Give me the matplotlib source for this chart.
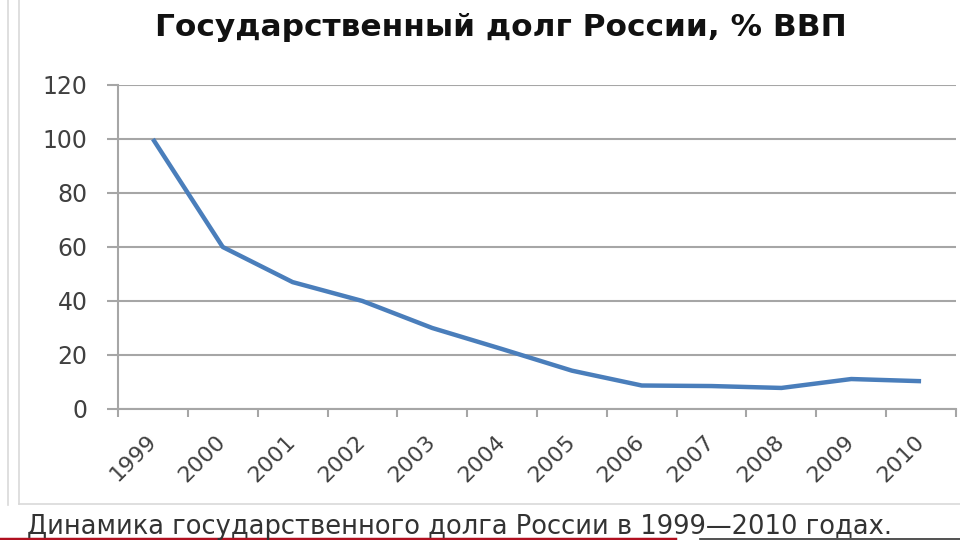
import matplotlib
matplotlib.use("Agg")
import matplotlib.pyplot as plt
from matplotlib.lines import Line2D
from matplotlib.ticker import FixedLocator, NullFormatter

years = ["1999", "2000", "2001", "2002", "2003", "2004",
         "2005", "2006", "2007", "2008", "2009", "2010"]
debt = [100, 60, 47, 40, 30, 22.2, 14.2, 8.7, 8.5, 7.8, 11.1, 10.3]
yticks = [0, 20, 40, 60, 80, 100, 120]
title = "Государственный долг России, % ВВП"
caption = "Динамика государственного долга России в 1999—2010 годах."

plt.rcParams['font.family'] = ['DejaVu Sans']

fig = plt.figure(figsize=(9.6, 5.4), dpi=100)
ax = fig.add_axes([118/960, 1-409/540, 838/960, 324/540])

x = list(range(len(years)))
ax.plot(x, debt, color="#4a7ebb", lw=3.2, solid_joinstyle="round", solid_capstyle="butt", zorder=3)

ax.set_xlim(-0.5, len(years) - 0.5)
ax.set_ylim(0, 120)

grid_c = "#a6a6a6"
ax.set_yticks(yticks)
ax.yaxis.grid(True, color=grid_c, lw=1.5)
ax.set_axisbelow(True)
for s in ["top", "right"]:
    ax.spines[s].set_visible(False)
for s in ["left", "bottom"]:
    ax.spines[s].set_color(grid_c)
    ax.spines[s].set_linewidth(1.5)

ax.tick_params(axis="y", length=8, width=1.5, color=grid_c, pad=14,
               labelsize=17, labelcolor="#404040")

ax.set_xticks(x)
ax.set_xticklabels(years, rotation=45, ha="right", va="center",
                   rotation_mode="anchor", fontsize=16, color="#404040")
ax.tick_params(axis="x", which="major", length=0, pad=21)
ax.xaxis.set_minor_locator(FixedLocator([i - 0.5 for i in range(len(years) + 1)]))
ax.xaxis.set_minor_formatter(NullFormatter())
ax.tick_params(axis="x", which="minor", length=6, width=1.5, color=grid_c)

fig.text(501/960, 1-27/540, title, ha="center", va="center",
         fontsize=22.5, fontweight="bold", color="#111111")

# chart frame
fc = "#d9d9d9"
fig.add_artist(Line2D([8/960, 8/960], [1, 1-505/540], color=fc, lw=1.2))
fig.add_artist(Line2D([19/960, 19/960], [1, 1-504/540], color=fc, lw=1.2))
fig.add_artist(Line2D([19/960, 1], [1-504/540, 1-504/540], color=fc, lw=1.2))

fig.text(27/960, 1-527/540, caption, ha="left", va="center",
         fontsize=18.5, color="#333333")
fig.add_artist(Line2D([0, 675/960], [1-538.5/540, 1-538.5/540], color="#b01020", lw=2.5))
fig.add_artist(Line2D([700/960, 1], [1-538.5/540, 1-538.5/540], color="#333333", lw=1.2))

fig.savefig("out.png", dpi=100)
